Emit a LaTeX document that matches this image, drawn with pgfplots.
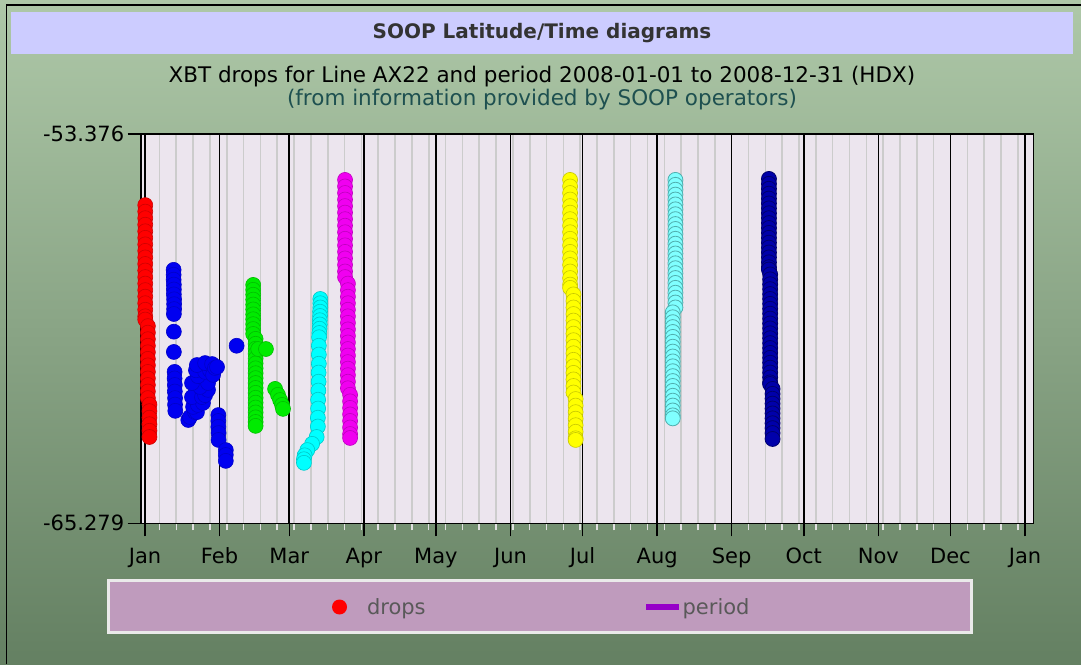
\documentclass[border=0pt]{standalone}
\usepackage{pgfplots}
\pgfplotsset{compat=1.18}
\usepackage{fontspec}
\setmainfont{DejaVu Sans}
\definecolor{bgtop}{RGB}{174,200,168}
\definecolor{bgbot}{RGB}{100,128,98}
\definecolor{titlebox}{RGB}{204,204,255}
\definecolor{plotbg}{RGB}{236,229,238}
\definecolor{legbox}{RGB}{191,155,189}
\definecolor{legborder}{RGB}{234,234,234}
\definecolor{subtwo}{RGB}{30,80,80}
\definecolor{cRed}{RGB}{255,0,0}\definecolor{dRed}{RGB}{205,0,0}
\definecolor{cBlue}{RGB}{0,0,240}\definecolor{dBlue}{RGB}{0,0,200}
\definecolor{cGreen}{RGB}{0,235,0}\definecolor{dGreen}{RGB}{0,190,0}
\definecolor{cCyan}{RGB}{0,255,255}\definecolor{dCyan}{RGB}{0,200,200}
\definecolor{cMag}{RGB}{240,0,240}\definecolor{dMag}{RGB}{190,0,190}
\definecolor{cYel}{RGB}{255,255,0}\definecolor{dYel}{RGB}{200,200,0}
\definecolor{cLCy}{RGB}{128,255,255}\definecolor{dLCy}{RGB}{80,175,175}
\definecolor{cNavy}{RGB}{0,0,170}\definecolor{dNavy}{RGB}{0,0,110}
\definecolor{cPer}{RGB}{150,0,200}
\begin{document}
\begin{tikzpicture}[x=1pt,y=1pt]
\useasboundingbox (0,0) rectangle (1081,664);
\shade[top color=bgtop, bottom color=bgbot] (0,0) rectangle (1081,664);
\draw[black, line width=1.5pt] (6.7,0) -- (6.7,659) -- (1081,659);
\fill[titlebox] (11,610) rectangle (1073,652);
\node[font=\bfseries\fontsize{20}{24}\selectfont, text=black!80] at (542,631) {SOOP Latitude/Time diagrams};
\node[font=\fontsize{21.5}{25}\selectfont, text=black] at (542,587) {XBT drops for Line AX22 and period 2008-01-01 to 2008-12-31 (HDX)};
\node[font=\fontsize{21.5}{25}\selectfont, text=subtwo] at (542,564) {(from information provided by SOOP operators)};
\fill[legborder] (107,30) rectangle (973,85);
\fill[legbox] (110,33) rectangle (970,82);
\begin{axis}[
  scale only axis, width=892.6pt, height=389.3pt,
  at={(140.7pt,140.7pt)}, anchor=south west,
  xmin=-1.79, xmax=369.45, ymin=-65.279, ymax=-53.376,
  axis background/.style={fill=plotbg},
  xtick={0,31,60,91,121,152,182,213,244,274,305,335,366},
  xticklabels={Jan,Feb,Mar,Apr,May,Jun,Jul,Aug,Sep,Oct,Nov,Dec,Jan},
  minor xtick={6,13,...,363},
  xmajorgrids, xminorgrids,
  major grid style={black, line width=1.6pt},
  minor grid style={black!20, line width=1.6pt},
  ytick={-65.279,-53.376}, yticklabels={-65.279,-53.376},
  xtick pos=bottom, ytick pos=left,
  tick align=outside,
  major tick length=13pt, minor tick length=7pt,
  major tick style={black, line width=1.5pt},
  minor tick style={black!12, line width=1.5pt},
  axis line style={black, line width=1.6pt},
  ticklabel style={font=\fontsize{21}{24}\selectfont, text=black},
  xticklabel style={yshift=-8pt},
  clip=false,
  legend cell align=left,
  legend columns=2,
  legend style={at={(0.4482,-0.215)}, anchor=center, draw=none, fill=none,
    font=\fontsize{21}{24}\selectfont, nodes={inner sep=0pt, text=black!65},
    /tikz/every even column/.append style={column sep=220pt}},
]
\addlegendimage{legend image code/.code={\path[draw=none,fill=none] (0pt,0pt) rectangle (35pt,0pt); \fill[cRed,draw=none] (7.5pt,0pt) circle (7.5pt);}}
\addlegendentry{drops}
\addlegendimage{legend image code/.code={\path[draw=none,fill=none] (0pt,0pt) rectangle (37pt,0pt); \fill[cPer,draw=none] (0pt,-3pt) rectangle (33pt,3pt);}}
\addlegendentry{period}

% red
\addplot[only marks, mark=*, mark size=7.5pt, mark options={fill=cRed, draw=dRed, line width=0.6pt}, forget plot] coordinates {
(0.1,-55.55)(0.1,-55.75)(0.1,-55.95)(0.1,-56.15)(0.1,-56.35)(0.1,-56.55)(0.1,-56.75)(0.1,-56.95)(0.1,-57.15)(0.1,-57.35)(0.1,-57.55)(0.1,-57.75)(0.1,-57.95)(0.1,-58.15)(0.1,-58.35)(0.1,-58.55)(0.1,-58.75)(0.1,-58.95)(0.1,-59.05)
(1.2,-59.25)(1.2,-59.45)(1.2,-59.65)(1.2,-59.85)(1.2,-60.05)(1.2,-60.25)(1.2,-60.45)(1.2,-60.65)(1.2,-60.85)(1.2,-61.05)(1.2,-61.25)(1.2,-61.45)
(1.85,-61.65)(1.85,-61.85)(1.85,-62.05)(1.85,-62.25)(1.85,-62.45)(1.85,-62.64)
};
% blue
\addplot[only marks, mark=*, mark size=7.5pt, mark options={fill=cBlue, draw=dBlue, line width=0.6pt}, forget plot] coordinates {
(11.9,-57.53)(11.9,-57.68)(11.9,-57.83)(12.0,-57.98)(12.0,-58.13)(12.0,-58.28)(12.1,-58.43)(12.1,-58.58)(12.1,-58.73)(12.0,-58.88)
(12.0,-59.42)(12.0,-60.04)
(12.3,-60.65)(12.3,-60.85)(12.4,-61.05)(12.4,-61.25)(12.5,-61.45)(12.5,-61.65)(12.6,-61.84)
(18.0,-62.12)(18.7,-62.03)(20.8,-61.88)(21.6,-61.88)(20.0,-61.72)(22.0,-61.66)(24.1,-61.60)(19.55,-61.42)(23.7,-61.42)(25.0,-61.36)(26.2,-61.20)(22.9,-61.11)(26.2,-60.99)(19.55,-60.99)(22.0,-60.78)(21.2,-60.60)(25.0,-60.65)(27.0,-60.60)(28.3,-60.74)(21.6,-60.44)(25.0,-60.38)(27.9,-60.41)(29.1,-60.53)(29.95,-60.50)
(30.5,-61.97)(30.5,-62.15)(30.5,-62.33)(30.6,-62.52)(30.6,-62.73)(33.6,-63.04)(33.6,-63.19)(33.6,-63.37)
(38.1,-59.85)
};
% green
\addplot[only marks, mark=*, mark size=7.5pt, mark options={fill=cGreen, draw=dGreen, line width=0.6pt}, forget plot] coordinates {
(45.0,-57.99)(45.0,-58.14)(45.0,-58.29)(45.0,-58.44)(45.0,-58.59)(45.0,-58.74)(45.0,-58.89)(45.0,-59.04)(45.0,-59.19)(45.0,-59.34)(45.0,-59.49)
(46.0,-59.64)(46.0,-59.79)(46.0,-59.94)(46.0,-60.09)(46.0,-60.24)(46.0,-60.39)(46.0,-60.54)(46.0,-60.69)(46.0,-60.84)
(46.0,-60.99)(46.0,-61.14)(46.0,-61.29)(46.0,-61.44)(46.0,-61.59)(46.0,-61.74)(46.0,-61.89)(46.0,-62.04)(46.0,-62.18)(46.0,-62.30)
(47.1,-59.95)(50.3,-59.95)
(54.1,-61.17)(55.3,-61.35)(56.2,-61.51)(57.0,-61.66)(57.4,-61.78)
};
% cyan
\addplot[only marks, mark=*, mark size=7.5pt, mark options={fill=cCyan, draw=dCyan, line width=0.6pt}, forget plot] coordinates {
(72.9,-58.42)(72.9,-58.55)(72.9,-58.68)(72.8,-58.81)(72.8,-58.94)(72.7,-59.07)(72.7,-59.20)(72.6,-59.33)(72.5,-59.46)(72.4,-59.59)
(72.3,-59.85)(72.3,-60.12)(72.3,-60.40)(72.2,-60.67)(72.2,-60.95)(72.1,-61.22)(72.0,-61.50)(72.0,-61.77)(71.9,-62.05)(71.9,-62.32)
(71.4,-62.64)(69.5,-62.85)(67.5,-63.04)(66.4,-63.20)(66.1,-63.32)(66.1,-63.43)
};
% magenta
\addplot[only marks, mark=*, mark size=7.5pt, mark options={fill=cMag, draw=dMag, line width=0.6pt}, forget plot] coordinates {
(83.2,-54.78)(83.2,-54.98)(83.2,-55.18)(83.2,-55.38)(83.2,-55.58)(83.2,-55.78)(83.2,-55.98)(83.2,-56.18)(83.2,-56.38)(83.2,-56.58)(83.2,-56.78)(83.2,-56.98)(83.2,-57.18)(83.2,-57.38)(83.2,-57.58)(83.2,-57.75)
(84.4,-57.95)(84.4,-58.15)(84.4,-58.35)(84.4,-58.55)(84.4,-58.75)(84.4,-58.95)(84.4,-59.15)(84.4,-59.35)(84.4,-59.55)(84.4,-59.75)(84.4,-59.95)(84.4,-60.15)(84.4,-60.35)(84.4,-60.55)(84.4,-60.75)(84.4,-60.95)(84.4,-61.15)
(85.3,-61.35)(85.3,-61.55)(85.3,-61.75)(85.3,-61.95)(85.3,-62.15)(85.3,-62.35)(85.3,-62.55)(85.3,-62.67)
};
% yellow
\addplot[only marks, mark=*, mark size=7.5pt, mark options={fill=cYel, draw=dYel, line width=0.6pt}, forget plot] coordinates {
(176.8,-54.78)(176.8,-54.98)(176.8,-55.18)(176.8,-55.38)(176.8,-55.58)(176.8,-55.78)(176.8,-55.98)(176.8,-56.18)(176.8,-56.38)(176.8,-56.58)(176.8,-56.78)(176.8,-56.98)(176.8,-57.18)(176.8,-57.38)(176.8,-57.58)(176.8,-57.78)(176.8,-57.98)(176.8,-58.08)
(178.2,-58.28)(178.2,-58.48)(178.2,-58.68)(178.2,-58.88)(178.2,-59.08)(178.2,-59.28)(178.2,-59.48)(178.2,-59.68)(178.2,-59.88)(178.2,-60.08)(178.2,-60.28)(178.2,-60.48)(178.2,-60.68)(178.2,-60.88)(178.2,-61.08)(178.2,-61.28)
(179.1,-61.48)(179.1,-61.68)(179.1,-61.88)(179.1,-62.08)(179.1,-62.28)(179.1,-62.48)(179.1,-62.68)(179.1,-62.73)
};
% light cyan
\addplot[only marks, mark=*, mark size=7.5pt, mark options={fill=cLCy, draw=dLCy, line width=0.8pt}, forget plot] coordinates {
(220.6,-54.78)(220.6,-54.93)(220.6,-55.08)(220.6,-55.23)(220.6,-55.38)(220.6,-55.53)(220.6,-55.68)(220.6,-55.83)(220.6,-55.98)(220.6,-56.13)(220.6,-56.28)(220.6,-56.43)(220.6,-56.58)(220.6,-56.73)(220.6,-56.88)(220.6,-57.03)(220.6,-57.18)(220.6,-57.33)(220.6,-57.48)(220.6,-57.63)(220.6,-57.78)(220.6,-57.93)(220.6,-58.08)(220.6,-58.23)(220.6,-58.38)(220.6,-58.53)(220.6,-58.68)
(219.5,-58.83)(219.5,-58.98)(219.5,-59.13)(219.5,-59.28)(219.5,-59.43)(219.5,-59.58)(219.5,-59.73)(219.5,-59.88)(219.5,-60.03)(219.5,-60.18)(219.5,-60.33)(219.5,-60.48)(219.5,-60.63)(219.5,-60.78)(219.5,-60.93)(219.5,-61.08)(219.5,-61.23)(219.5,-61.38)(219.5,-61.53)(219.5,-61.68)(219.5,-61.83)(219.5,-61.98)(219.5,-62.07)
};
% navy
\addplot[only marks, mark=*, mark size=7.5pt, mark options={fill=cNavy, draw=dNavy, line width=0.8pt}, forget plot] coordinates {
(259.5,-54.75)(259.5,-54.90)(259.5,-55.05)(259.5,-55.20)(259.5,-55.35)(259.5,-55.50)(259.5,-55.65)(259.5,-55.80)(259.5,-55.95)(259.5,-56.10)(259.5,-56.25)(259.5,-56.40)(259.5,-56.55)(259.5,-56.70)(259.5,-56.85)(259.5,-57.00)(259.5,-57.15)(259.5,-57.30)(259.5,-57.45)(259.5,-57.52)
(260.0,-57.67)(260.0,-57.82)(260.0,-57.97)(260.0,-58.12)(260.0,-58.27)(260.0,-58.42)(260.0,-58.57)(260.0,-58.72)(260.0,-58.87)(260.0,-59.02)(260.0,-59.17)(260.0,-59.32)(260.0,-59.47)(260.0,-59.62)(260.0,-59.77)(260.0,-59.92)(260.0,-60.07)(260.0,-60.22)(260.0,-60.37)(260.0,-60.52)(260.0,-60.67)(260.0,-60.82)(260.0,-60.97)(260.0,-61.02)
(261.0,-61.17)(261.0,-61.32)(261.0,-61.47)(261.0,-61.62)(261.0,-61.77)(261.0,-61.92)(261.0,-62.07)(261.0,-62.22)(261.0,-62.37)(261.0,-62.52)(261.0,-62.70)
};
\end{axis}
\end{tikzpicture}
\end{document}
